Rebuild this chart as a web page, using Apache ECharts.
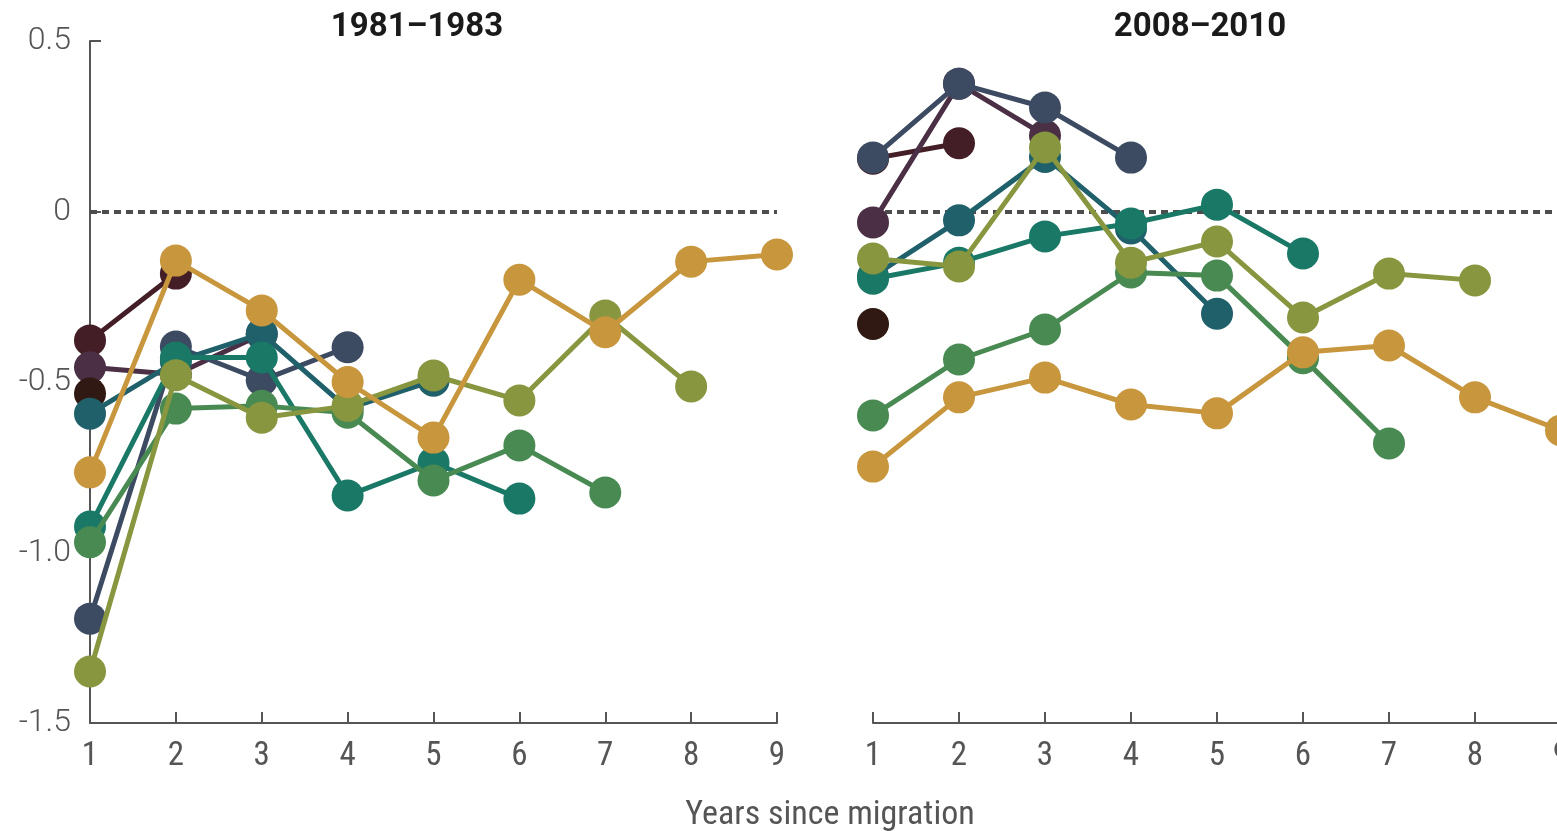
<!DOCTYPE html>
<html><head><meta charset="utf-8">
<script src="https://cdn.jsdelivr.net/npm/echarts@6/dist/echarts.min.js"></script>
<style>html,body{margin:0;padding:0;background:#fff}#c{width:1557px;height:831px}</style>
</head><body><div id="c"></div>
<script>
// ---- data ----
const years = ['1','2','3','4','5','6','7','8','9'];
const yTickLabels = ['-1.5','-1.0','-0.5','0','0.5'];
const panelTitles = ['1981–1983','2008–2010'];
const xAxisTitle = 'Years since migration';
const seriesKeys = ['maroon','plum','brown','navy','darkTeal','tealGreen','green','olive','gold'];
const seriesColors = ['#431e26','#4a2f45','#2f1912','#3c4a62','#20606b','#1a7866','#498a53','#87963f','#c7963d'];

// 1981–1983 panel
const left_maroon    = [-0.378, -0.182];
const left_plum      = [-0.457, -0.478, -0.36];
const left_brown     = [-0.534];
const left_navy      = [-1.194, -0.396, -0.495, -0.398];
const left_darkTeal  = [-0.593, -0.44, -0.358, -0.578, -0.496];
const left_tealGreen = [-0.924, -0.428, -0.428, -0.833, -0.736, -0.842];
const left_green     = [-0.97, -0.578, -0.57, -0.59, -0.789, -0.686, -0.824];
const left_olive     = [-1.349, -0.48, -0.605, -0.57, -0.481, -0.554, -0.305, -0.513];
const left_gold      = [-0.765, -0.144, -0.29, -0.50, -0.663, -0.2, -0.354, -0.147, -0.126];

// 2008–2010 panel
const right_maroon    = [0.155, 0.2];
const right_plum      = [-0.032, 0.375, 0.223];
const right_brown     = [-0.33];
const right_navy      = [0.158, 0.375, 0.305, 0.158];
const right_darkTeal  = [-0.19, -0.026, 0.16, -0.05, -0.30];
const right_tealGreen = [-0.197, -0.15, -0.073, -0.035, 0.02, -0.123];
const right_green     = [-0.598, -0.434, -0.346, -0.179, -0.188, -0.43, -0.68];
const right_olive     = [-0.138, -0.161, 0.188, -0.15, -0.088, -0.311, -0.182, -0.202];
const right_gold      = [-0.748, -0.545, -0.487, -0.566, -0.592, -0.413, -0.393, -0.545, -0.642];

const leftData  = [left_maroon,left_plum,left_brown,left_navy,left_darkTeal,left_tealGreen,left_green,left_olive,left_gold];
const rightData = [right_maroon,right_plum,right_brown,right_navy,right_darkTeal,right_tealGreen,right_green,right_olive,right_gold];

// ---- chart ----
const axisColor = '#555';
const narrow = "'Liberation Sans Narrow','Roboto Condensed','Arial Narrow',sans-serif";
const chart = echarts.init(document.getElementById('c'), null, {renderer:'canvas'});

function xAxis(gi){
  return {
    gridIndex: gi, type:'category', data: years, boundaryGap:false,
    axisLine:{show:true,onZero:false,lineStyle:{color:axisColor,width:2}},
    axisTick:{show:true,inside:true,length:11,lineStyle:{color:axisColor,width:2},alignWithLabel:true},
    axisLabel:{color:axisColor,fontFamily:narrow,fontSize:33,margin:17},
    splitLine:{show:false}
  };
}
function yAxis(gi, show){
  return {
    gridIndex: gi, type:'value', min:-1.5, max:0.5, interval:0.5,
    show: show,
    axisLine:{show:true,lineStyle:{color:axisColor,width:2}},
    axisTick:{show:true,inside:true,length:11,lineStyle:{color:axisColor,width:2}},
    axisLabel:{color:axisColor,fontFamily:"Roboto, sans-serif",fontSize:32,fontWeight:300,margin:19,
      formatter:(v)=>{const i=Math.round((v+1.5)/0.5);return yTickLabels[i];}},
    splitLine:{show:false}
  };
}

const series = [];
[leftData,rightData].forEach((panel,gi)=>{
  panel.forEach((arr,si)=>{
    const s = {
      type:'line', name: seriesKeys[si], xAxisIndex:gi, yAxisIndex:gi,
      data: arr, symbol:'circle', symbolSize:32, showSymbol:true, showAllSymbol:true,
      lineStyle:{color:seriesColors[si],width:5},
      itemStyle:{color:seriesColors[si]},
      z: 3 + si, animation:false, silent:true
    };
    if(si===0){
      s.markLine = {silent:true,symbol:'none',label:{show:false},
        lineStyle:{color:'#4d4d4d',type:[7,5],width:4},
        emphasis:{disabled:true},
        data:[{yAxis:0}], z:1};
    }
    series.push(s);
  });
});

chart.setOption({
  animation:false,
  backgroundColor:'#fff',
  title:[
    {text:panelTitles[0],left:412,top:6,textAlign:'center',textStyle:{fontFamily:'Roboto, sans-serif',fontWeight:'bold',fontSize:33,color:'#1a1a1a'}},
    {text:panelTitles[1],left:1195,top:6,textAlign:'center',textStyle:{fontFamily:'Roboto, sans-serif',fontWeight:'bold',fontSize:33,color:'#1a1a1a'}},
    {text:xAxisTitle,left:825,top:793,textAlign:'center',textStyle:{fontFamily:narrow,fontWeight:'normal',fontSize:34,color:axisColor}}
  ],
  grid:[
    {left:90,top:41,width:687,height:682,containLabel:false,outerBoundsMode:'none'},
    {left:873,top:41,width:688,height:682,containLabel:false,outerBoundsMode:'none'}
  ],
  xAxis:[xAxis(0),xAxis(1)],
  yAxis:[yAxis(0,true),yAxis(1,false)],
  series: series
});
</script></body></html>
